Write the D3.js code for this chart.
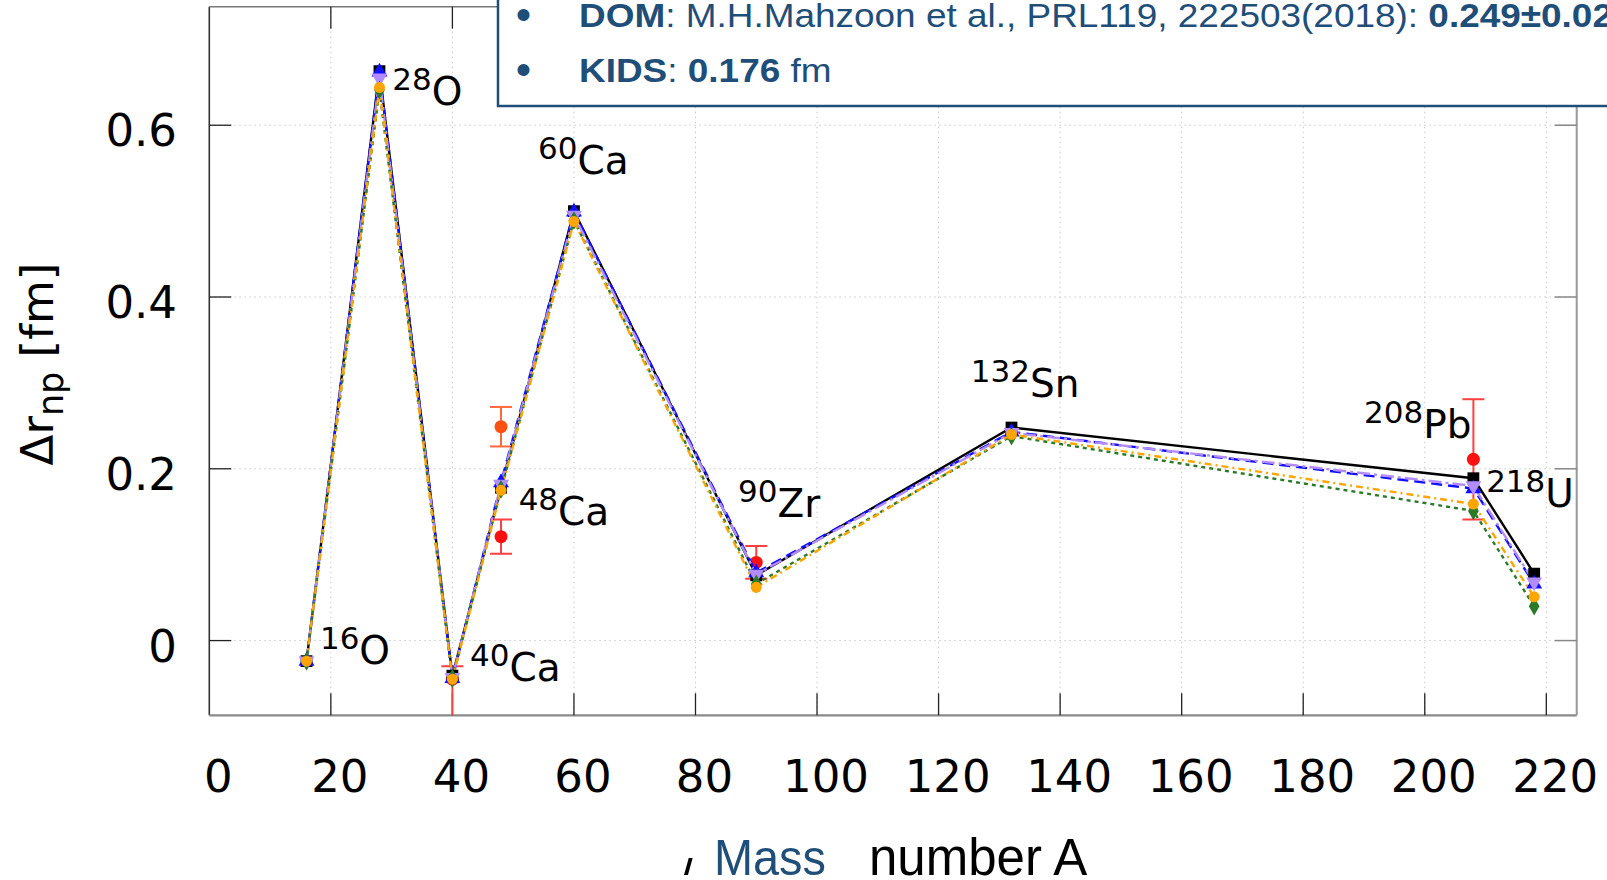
<!DOCTYPE html>
<html>
<head>
<meta charset="utf-8">
<script src="https://cdn.jsdelivr.net/npm/d3@7"></script>
<style>
  html, body { margin: 0; padding: 0; background: #fff; }
  svg { display: block; }
</style>
</head>
<body>
<svg id="chart" width="1607" height="880"></svg>
<script>
// Nuclei and their mass numbers
const nuclei = ["16O", "28O", "40Ca", "48Ca", "60Ca", "90Zr", "132Sn", "208Pb", "218U"];
const massNumbers = [16, 28, 40, 48, 60, 90, 132, 208, 218];

// Neutron-skin thickness from five model calculations (fm)
const skinBlack  = [-0.024, 0.663, -0.041, 0.178, 0.500, 0.076, 0.248, 0.189, 0.078];
const skinBlue   = [-0.024, 0.662, -0.044, 0.184, 0.499, 0.079, 0.243, 0.177, 0.066];
const skinViolet = [-0.024, 0.655, -0.043, 0.182, 0.495, 0.077, 0.242, 0.180, 0.068];
const skinGreen  = [-0.024, 0.641, -0.044, 0.176, 0.489, 0.066, 0.238, 0.151, 0.040];
const skinOrange = [-0.024, 0.644, -0.045, 0.175, 0.488, 0.062, 0.240, 0.159, 0.051];

// Measured / extracted values with error bars
const expMass    = [40, 48, 48, 90, 208];
const expValue   = [-0.045, 0.249, 0.121, 0.091, 0.211];
const expErrUp   = [0.015, 0.023, 0.020, 0.019, 0.070];
const expErrDown = [0.050, 0.023, 0.020, 0.019, 0.070];
const expSource  = ["exp", "DOM", "exp", "exp", "exp"];

// Axis ticks
const xTickValues = [0, 20, 40, 60, 80, 100, 120, 140, 160, 180, 200, 220];
const yTickValues = [0, 0.2, 0.4, 0.6];
const yTickLabels = ["0", "0.2", "0.4", "0.6"];

// Nucleus annotations: mass superscript, element symbol, anchor in data units
const labelMass    = ["16", "28", "40", "48", "60", "90", "132", "208", "218"];
const labelElement = ["O", "O", "Ca", "Ca", "Ca", "Zr", "Sn", "Pb", "U"];
const labelAtA     = [18.2, 30.1, 42.9, 50.9, 54.1, 87.0, 125.3, 190.0, 210.1];
const labelAtY     = [-0.027, 0.624, -0.0476, 0.135, 0.543, 0.1433, 0.284, 0.2364, 0.155];

const svg = d3.select("#chart");
const L = 209.3, R = 1576.7, T = 6.7, B = 715.3;

const x = d3.scaleLinear().domain([0, 225]).range([L, R]);
const y = d3.scaleLinear().domain([-0.087, 0.738]).range([B, T]);

const tickFont = "'DejaVu Sans', Verdana, sans-serif";

// clip region for the data
svg.append("defs").append("clipPath").attr("id", "plotClip")
  .append("rect").attr("x", L).attr("y", T).attr("width", R - L).attr("height", B - T);

// grid
const grid = svg.append("g");
grid.selectAll("line.gx").data(xTickValues.filter(v => v > 0)).join("line")
  .attr("x1", d => x(d)).attr("x2", d => x(d)).attr("y1", T).attr("y2", B)
  .attr("stroke", "#c8c8c8").attr("stroke-width", 1).attr("stroke-dasharray", "1.5,3.5");
grid.selectAll("line.gy").data(yTickValues).join("line")
  .attr("x1", L).attr("x2", R).attr("y1", d => y(d)).attr("y2", d => y(d))
  .attr("stroke", "#c8c8c8").attr("stroke-width", 1).attr("stroke-dasharray", "1.5,3.5");

// frame
const frame = svg.append("g");
frame.append("line").attr("x1", L).attr("x2", L).attr("y1", T).attr("y2", B).attr("stroke", "#333").attr("stroke-width", 1.6);
frame.append("line").attr("x1", L).attr("x2", R).attr("y1", T).attr("y2", T).attr("stroke", "#777").attr("stroke-width", 1.6);
frame.append("line").attr("x1", R).attr("x2", R).attr("y1", T).attr("y2", B).attr("stroke", "#999").attr("stroke-width", 2);
frame.append("line").attr("x1", L).attr("x2", R).attr("y1", B).attr("y2", B).attr("stroke", "#8a8a8a").attr("stroke-width", 2.2);

// inward ticks
const tickLen = 22;
frame.selectAll("line.tb").data(xTickValues.filter(v => v > 0)).join("line")
  .attr("x1", d => x(d)).attr("x2", d => x(d)).attr("y1", B).attr("y2", B - tickLen)
  .attr("stroke", "#222").attr("stroke-width", 1.3);
frame.selectAll("line.tt").data(xTickValues.filter(v => v > 0)).join("line")
  .attr("x1", d => x(d)).attr("x2", d => x(d)).attr("y1", T).attr("y2", T + tickLen)
  .attr("stroke", "#222").attr("stroke-width", 1.3);
frame.selectAll("line.tl").data(yTickValues).join("line")
  .attr("x1", L).attr("x2", L + tickLen).attr("y1", d => y(d)).attr("y2", d => y(d))
  .attr("stroke", "#222").attr("stroke-width", 1.3);
frame.selectAll("line.tr").data(yTickValues).join("line")
  .attr("x1", R).attr("x2", R - tickLen).attr("y1", d => y(d)).attr("y2", d => y(d))
  .attr("stroke", "#888").attr("stroke-width", 1.5);

// tick labels
svg.append("g").selectAll("text").data(xTickValues).join("text")
  .attr("x", d => x(d) + 9).attr("y", 792)
  .attr("text-anchor", "middle").attr("font-family", tickFont).attr("font-size", 45).attr("fill", "#000")
  .text(d => d);
svg.append("g").selectAll("text").data(yTickValues).join("text")
  .attr("x", 177).attr("y", d => y(d) + 21)
  .attr("text-anchor", "end").attr("font-family", tickFont).attr("font-size", 45).attr("fill", "#000")
  .text((d, i) => yTickLabels[i]);

// y-axis title
const yt = svg.append("text")
  .attr("transform", "translate(53,364) rotate(-90)")
  .attr("text-anchor", "middle").attr("font-family", tickFont).attr("font-size", 45).attr("fill", "#000");
yt.append("tspan").text("Δr");
yt.append("tspan").attr("font-size", 35).attr("dy", 10).text("np");
yt.append("tspan").attr("dy", -10).text(" [fm]");

// x-axis title
svg.append("defs").append("clipPath").attr("id", "stubClip")
  .append("rect").attr("x", 680).attr("y", 858).attr("width", 30).attr("height", 22);
svg.append("text").attr("x", 684).attr("y", 875).attr("clip-path", "url(#stubClip)")
  .attr("font-family", "'Liberation Sans', Arial, sans-serif").attr("font-size", 50).attr("fill", "#000").text("/");
svg.append("text").attr("x", 714).attr("y", 875)
  .attr("font-family", "'Liberation Sans', Arial, sans-serif").attr("font-size", 50)
  .attr("textLength", 112).attr("lengthAdjust", "spacingAndGlyphs")
  .attr("fill", "#1f4e79").text("Mass");
svg.append("text").attr("x", 869).attr("y", 875)
  .attr("font-family", "'Liberation Sans', Arial, sans-serif").attr("font-size", 51)
  .attr("fill", "#000").text("number A");

// data layer
const plot = svg.append("g").attr("clip-path", "url(#plotClip)");

// experimental points with error bars (drawn beneath the model curves)
const expColor = s => s === "DOM" ? "#ff5014" : "#ff1010";
const expBarColor = s => s === "DOM" ? "#ff6a3a" : "#ff4040";
const expIdx = d3.range(expMass.length);
const capHalf = 11;
const eg = plot.append("g");
eg.selectAll("line.bar").data(expIdx).join("line")
  .attr("x1", i => x(expMass[i])).attr("x2", i => x(expMass[i]))
  .attr("y1", i => y(expValue[i] + expErrUp[i])).attr("y2", i => y(expValue[i] - expErrDown[i]))
  .attr("stroke", i => expBarColor(expSource[i])).attr("stroke-width", 2);
eg.selectAll("line.capTop").data(expIdx).join("line")
  .attr("x1", i => x(expMass[i]) - capHalf).attr("x2", i => x(expMass[i]) + capHalf)
  .attr("y1", i => y(expValue[i] + expErrUp[i])).attr("y2", i => y(expValue[i] + expErrUp[i]))
  .attr("stroke", i => expBarColor(expSource[i])).attr("stroke-width", 2);
eg.selectAll("line.capBot").data(expIdx).join("line")
  .attr("x1", i => x(expMass[i]) - capHalf).attr("x2", i => x(expMass[i]) + capHalf)
  .attr("y1", i => y(expValue[i] - expErrDown[i])).attr("y2", i => y(expValue[i] - expErrDown[i]))
  .attr("stroke", i => expBarColor(expSource[i])).attr("stroke-width", 2);
eg.selectAll("circle").data(expIdx).join("circle")
  .attr("cx", i => x(expMass[i])).attr("cy", i => y(expValue[i])).attr("r", 6.5)
  .attr("fill", i => expColor(expSource[i]));

// model curves
const models = [
  { values: skinBlack,  color: "#000000", dash: null,            symbol: d3.symbolSquare,   size: 140, rot: 0 },
  { values: skinBlue,   color: "#1010ff", dash: "11,6",          symbol: d3.symbolTriangle, size: 110, rot: 0 },
  { values: skinViolet, color: "#b38cff", dash: "13,4,3,4",      symbol: d3.symbolTriangle, size: 110, rot: 180 },
  { values: skinGreen,  color: "#2a7a2a", dash: "4,4",           symbol: d3.symbolDiamond,  size: 100, rot: 0 },
  { values: skinOrange, color: "#ffa500", dash: "7,4,2,4",       symbol: d3.symbolCircle,   size: 95,  rot: 0 }
];

const line = d3.line().x((d, i) => x(massNumbers[i])).y(d => y(d));

models.forEach(m => {
  plot.append("path").datum(m.values)
    .attr("d", line).attr("fill", "none")
    .attr("stroke", m.color).attr("stroke-width", 2.4)
    .attr("stroke-dasharray", m.dash);
});
models.forEach(m => {
  plot.append("g").selectAll("path").data(m.values).join("path")
    .attr("d", d3.symbol().type(m.symbol).size(m.size))
    .attr("transform", (d, i) => `translate(${x(massNumbers[i])},${y(d)}) rotate(${m.rot})`)
    .attr("fill", m.color);
});

// nucleus labels
const lg = svg.append("g");
nuclei.forEach((n, i) => {
  const t = lg.append("text")
    .attr("x", x(labelAtA[i])).attr("y", y(labelAtY[i]))
    .attr("font-family", tickFont).attr("fill", "#000");
  t.append("tspan").attr("font-size", 31).attr("dy", -15).text(labelMass[i]);
  t.append("tspan").attr("font-size", 39).attr("dy", 15).text(labelElement[i]);
});

// reference box with literature values
const box = svg.append("g");
box.append("rect").attr("x", 498).attr("y", -10).attr("width", 1200).attr("height", 116)
  .attr("fill", "#fff").attr("stroke", "#1f4e79").attr("stroke-width", 2.5);
const boxFont = "'Liberation Sans', Arial, sans-serif";
[29.5, 84.5].forEach(by => {
  box.append("text").attr("x", 523.5).attr("y", by).attr("text-anchor", "middle")
    .attr("font-family", boxFont).attr("font-size", 44).attr("fill", "#1f4e79").text("•");
});
const l1 = box.append("text").attr("transform", "translate(579,27) scale(1.12,1)")
  .attr("font-family", boxFont).attr("font-size", 33).attr("fill", "#1f4e79");
l1.append("tspan").attr("font-weight", "bold").text("DOM");
l1.append("tspan").text(": M.H.Mahzoon et al., PRL119, 222503(2018): ");
l1.append("tspan").attr("font-weight", "bold").text("0.249±0.023");
l1.append("tspan").text(" fm");
const l2 = box.append("text").attr("transform", "translate(579,82) scale(1.12,1)")
  .attr("font-family", boxFont).attr("font-size", 33).attr("fill", "#1f4e79");
l2.append("tspan").attr("font-weight", "bold").text("KIDS");
l2.append("tspan").text(": ");
l2.append("tspan").attr("font-weight", "bold").text("0.176");
l2.append("tspan").text(" fm");
</script>
</body>
</html>
